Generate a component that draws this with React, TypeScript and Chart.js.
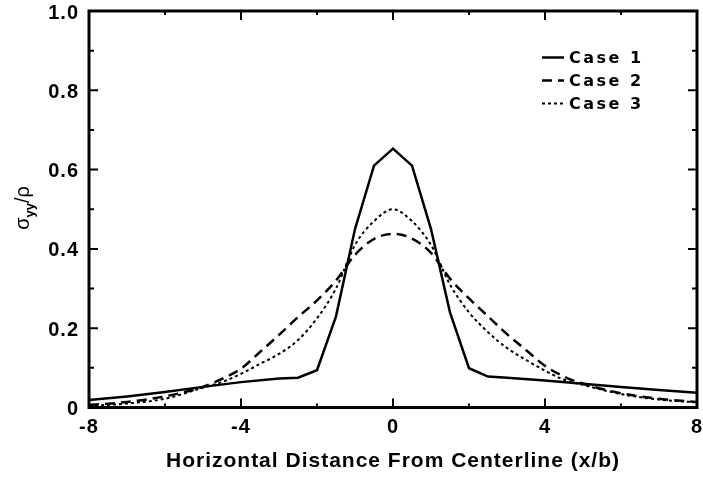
import React, { useEffect, useRef } from 'react';
import { Chart, registerables } from 'chart.js';

Chart.register(...registerables);

// ---- data ----
const xCase1 = [-8, -7, -6, -5, -4, -3, -2.5, -2, -1.5, -1, -0.5, 0, 0.5, 1, 1.5, 2, 2.5, 3, 4, 5, 6, 7, 8];
const yCase1 = [0.019, 0.028, 0.039, 0.052, 0.064, 0.073, 0.075, 0.094, 0.23, 0.45, 0.61, 0.653, 0.61, 0.45, 0.24, 0.099, 0.078, 0.075, 0.068, 0.06, 0.052, 0.044, 0.037];

const xSmooth = [-8, -7, -6, -5, -4.5, -4, -3.5, -3, -2.5, -2, -1.5, -1, -0.5, 0, 0.5, 1, 1.5, 2, 2.5, 3, 3.5, 4, 4.5, 5, 6, 7, 8];
const yCase2 = [0.006, 0.014, 0.028, 0.052, 0.072, 0.098, 0.14, 0.183, 0.228, 0.27, 0.32, 0.385, 0.425, 0.438, 0.426, 0.39, 0.325, 0.275, 0.23, 0.185, 0.145, 0.105, 0.078, 0.06, 0.036, 0.022, 0.014];
const yCase3 = [0.004, 0.01, 0.022, 0.05, 0.064, 0.085, 0.11, 0.135, 0.17, 0.225, 0.3, 0.41, 0.47, 0.5, 0.47, 0.41, 0.31, 0.24, 0.19, 0.15, 0.12, 0.093, 0.07, 0.057, 0.034, 0.02, 0.013];

const seriesLabels = ['Case 1', 'Case 2', 'Case 3'];

const xTicks = [-8, -4, 0, 4, 8];
const xMinorTicks = [-6, -2, 2, 6];
const yTicks = [0, 0.2, 0.4, 0.6, 0.8, 1.0];
const yMinorTicks = [0.1, 0.3, 0.5, 0.7, 0.9];

const xTitle = 'Horizontal Distance From Centerline (x/b)';
const yTitleMain = 'σ';
const yTitleSub = 'yy';
const yTitleTail = '/ρ';

const FONT = "'Liberation Sans', Arial, sans-serif";

const toPoints = (xs: number[], ys: number[]) => xs.map((x, i) => ({ x, y: ys[i] }));

const framePlugin = {
  id: 'frameTicks',
  beforeDraw(chart: any) {
    chart.ctx.letterSpacing = '1px';
  },
  afterDatasetsDraw(chart: any) {
    const { ctx, chartArea: a, scales } = chart;
    const xs = scales.x;
    const ys = scales.y;
    ctx.save();
    ctx.strokeStyle = '#000';
    ctx.lineWidth = 3;
    ctx.strokeRect(a.left, a.top, a.right - a.left, a.bottom - a.top);
    ctx.lineWidth = 2;
    ctx.beginPath();
    const yMark = (v: number, len: number) => {
      const p = ys.getPixelForValue(v);
      ctx.moveTo(a.left, p); ctx.lineTo(a.left + len, p);
      ctx.moveTo(a.right, p); ctx.lineTo(a.right - len, p);
    };
    const xMark = (v: number, len: number) => {
      const p = xs.getPixelForValue(v);
      ctx.moveTo(p, a.bottom); ctx.lineTo(p, a.bottom - len);
      ctx.moveTo(p, a.top); ctx.lineTo(p, a.top + len);
    };
    yTicks.forEach((v) => yMark(v, 9));
    yMinorTicks.forEach((v) => yMark(v, 5));
    xTicks.forEach((v) => xMark(v, 9));
    xMinorTicks.forEach((v) => xMark(v, 4));
    ctx.stroke();
    ctx.restore();
  },
  afterDraw(chart: any) {
    const { ctx } = chart;
    ctx.save();
    // legend
    ctx.fillStyle = '#000';
    ctx.strokeStyle = '#000';
    ctx.textAlign = 'left';
    ctx.textBaseline = 'middle';
    chart.data.datasets.forEach((ds: any, i: number) => {
      const cy = 57.5 + i * 23;
      ctx.save();
      ctx.lineWidth = ds.borderWidth;
      ctx.setLineDash(ds.borderDash || []);
      ctx.beginPath();
      ctx.moveTo(542, cy);
      ctx.lineTo(564, cy);
      ctx.stroke();
      ctx.restore();
      ctx.letterSpacing = '2.5px';
      ctx.font = "bold 16px 'DejaVu Sans', sans-serif";
      ctx.fillText(ds.label, 569, cy + 1);
    });
    // y title: sigma_yy / rho, rotated
    ctx.letterSpacing = '0px';
    ctx.translate(24, 208);
    ctx.rotate(-Math.PI / 2);
    const mainFont = `20px ${FONT}`;
    const subFont = `bold 13px ${FONT}`;
    ctx.font = mainFont;
    const w1 = ctx.measureText(yTitleMain).width;
    const w3 = ctx.measureText(yTitleTail).width;
    ctx.font = subFont;
    const w2 = ctx.measureText(yTitleSub).width;
    const total = w1 + w2 + w3;
    let cx = -total / 2;
    ctx.textBaseline = 'alphabetic';
    ctx.font = mainFont;
    ctx.fillText(yTitleMain, cx, 5);
    cx += w1;
    ctx.font = subFont;
    ctx.fillText(yTitleSub, cx, 10);
    cx += w2;
    ctx.font = mainFont;
    ctx.fillText(yTitleTail, cx, 5);
    ctx.restore();
    ctx.letterSpacing = '0px';
  },
};

export default function App() {
  const ref = useRef<HTMLCanvasElement | null>(null);

  useEffect(() => {
    if (!ref.current) return;
    const chart = new Chart(ref.current, {
      type: 'line',
      data: {
        datasets: [
          {
            label: seriesLabels[0],
            data: toPoints(xCase1, yCase1),
            borderColor: '#000',
            borderWidth: 2.5,
            pointRadius: 0,
            tension: 0,
            fill: false,
          },
          {
            label: seriesLabels[1],
            data: toPoints(xSmooth, yCase2),
            borderColor: '#000',
            borderWidth: 2.5,
            borderDash: [10, 6],
            pointRadius: 0,
            cubicInterpolationMode: 'monotone',
            fill: false,
          },
          {
            label: seriesLabels[2],
            data: toPoints(xSmooth, yCase3),
            borderColor: '#000',
            borderWidth: 2,
            borderDash: [3, 3],
            pointRadius: 0,
            cubicInterpolationMode: 'monotone',
            fill: false,
          },
        ],
      },
      options: {
        responsive: false,
        animation: false,
        devicePixelRatio: 1,
        layout: { padding: { top: 11, right: 6, left: 0, bottom: 0 } },
        plugins: {
          legend: { display: false },
          tooltip: { enabled: false },
        },
        scales: {
          x: {
            type: 'linear',
            min: -8,
            max: 8,
            afterBuildTicks: (s: any) => {
              s.ticks = xTicks.map((v) => ({ value: v }));
            },
            afterFit: (s: any) => {
              s.height = 70.5;
              s.paddingLeft = 0;
              s.paddingRight = 0;
            },
            grid: { display: false, drawTicks: false },
            border: { display: false },
            ticks: {
              color: '#000',
              padding: 8,
              maxRotation: 0,
              font: { family: FONT, size: 20, weight: 'bold' },
              callback: (v: any) => String(v),
            },
            title: {
              display: true,
              text: xTitle,
              color: '#000',
              font: { family: FONT, size: 21, weight: 'bold' },
              padding: { top: 0, bottom: 4 },
            },
          },
          y: {
            type: 'linear',
            min: 0,
            max: 1,
            afterBuildTicks: (s: any) => {
              s.ticks = yTicks.map((v) => ({ value: v }));
            },
            afterFit: (s: any) => {
              s.width = 89;
              s.paddingTop = 0;
              s.paddingBottom = 0;
            },
            grid: { display: false, drawTicks: false },
            border: { display: false },
            ticks: {
              color: '#000',
              padding: 10,
              labelOffset: 2,
              font: { family: FONT, size: 20, weight: 'bold' },
              callback: (v: any) => (Number(v) === 0 ? '0' : Number(v).toFixed(1)),
            },
          },
        },
      },
      plugins: [framePlugin],
    } as any);
    return () => chart.destroy();
  }, []);

  return (
    <div style={{ position: 'absolute', left: 0, top: 0, width: 703, height: 478, background: '#fff' }}>
      <canvas ref={ref} width={703} height={478} style={{ display: 'block' }} />
    </div>
  );
}
